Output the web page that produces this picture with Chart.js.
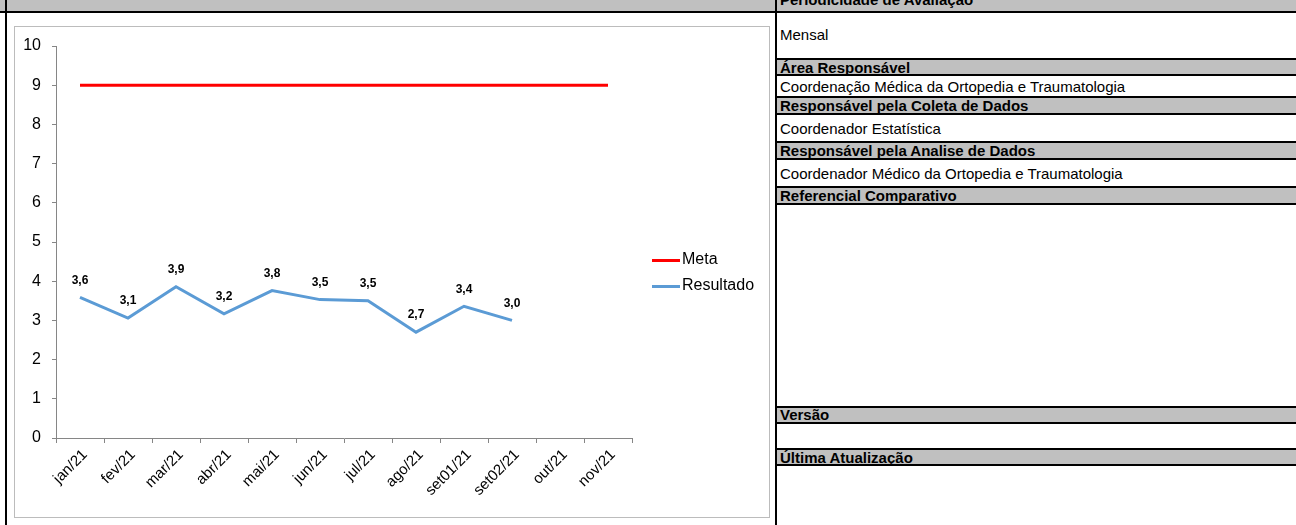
<!DOCTYPE html>
<html>
<head>
<meta charset="utf-8">
<script src="https://cdn.jsdelivr.net/npm/chart.js@4.4.1/dist/chart.umd.min.js"></script>
<style>
  body { margin: 0; background: #fff; font-family: "Liberation Sans", Arial, sans-serif; }
  #page { position: relative; width: 1296px; height: 525px; overflow: hidden; }
  .abs { position: absolute; }
  .gray { background: #c0c0c0; }
  .blk { background: #000; }
  .cell { position: absolute; left: 780px; font-size: 15px; color: #000; white-space: nowrap; }
  .cell.b { font-weight: bold; }
  #box { position: absolute; left: 14px; top: 26px; width: 754px; height: 490px; border: 1px solid #bcbcbc; }
  #chartWrap { position: absolute; left: 0; top: 0; width: 754px; height: 490px; }
  .leg { position: absolute; font-size: 16px; color: #000; }
  .leg span { position: absolute; left: 0; width: 28px; height: 3px; }
  .leg b { font-weight: normal; position: absolute; left: 30px; top: 0; white-space: nowrap; }
</style>
</head>
<body>
<div id="page">
  <!-- top bar -->
  <div class="abs gray" style="left:0;top:0;width:1296px;height:11px;"></div>
  <div class="abs blk" style="left:0;top:11px;width:1296px;height:2px;"></div>
  <div class="abs blk" style="left:5px;top:0;width:2px;height:525px;"></div>

  <div id="box"><div id="chartWrap"><canvas id="myChart"></canvas></div></div>

  <div class="leg" style="left:652px;top:250px;"><span style="top:9px;background:#ff0000;"></span><b>Meta</b></div>
  <div class="leg" style="left:652px;top:276px;"><span style="top:9px;background:#5b9bd5;"></span><b>Resultado</b></div>

  <!-- right table -->
  <div class="abs gray" style="left:777px;top:60px;width:519px;height:14px;"></div>
  <div class="abs gray" style="left:777px;top:98px;width:519px;height:15px;"></div>
  <div class="abs gray" style="left:777px;top:143px;width:519px;height:15px;"></div>
  <div class="abs gray" style="left:777px;top:188px;width:519px;height:15px;"></div>
  <div class="abs gray" style="left:777px;top:408px;width:519px;height:14px;"></div>
  <div class="abs gray" style="left:777px;top:450px;width:519px;height:14px;"></div>

  <div class="abs blk" style="left:777px;top:58px;width:519px;height:2px;"></div>
  <div class="abs blk" style="left:777px;top:74px;width:519px;height:2px;"></div>
  <div class="abs blk" style="left:777px;top:96px;width:519px;height:2px;"></div>
  <div class="abs blk" style="left:777px;top:113px;width:519px;height:2px;"></div>
  <div class="abs blk" style="left:777px;top:141px;width:519px;height:2px;"></div>
  <div class="abs blk" style="left:777px;top:158px;width:519px;height:2px;"></div>
  <div class="abs blk" style="left:777px;top:186px;width:519px;height:2px;"></div>
  <div class="abs blk" style="left:777px;top:203px;width:519px;height:2px;"></div>
  <div class="abs blk" style="left:777px;top:406px;width:519px;height:2px;"></div>
  <div class="abs blk" style="left:777px;top:422px;width:519px;height:2px;"></div>
  <div class="abs blk" style="left:777px;top:448px;width:519px;height:2px;"></div>
  <div class="abs blk" style="left:777px;top:464px;width:519px;height:2px;"></div>
  <div class="abs blk" style="left:775px;top:0;width:2px;height:525px;"></div>

  <div class="cell b" style="top:-9px;">Periodicidade de Avaliação</div>
  <div class="cell" style="top:26px;">Mensal</div>
  <div class="cell b" style="top:59px;">Área Responsável</div>
  <div class="cell" style="top:78px;">Coordenação Médica da Ortopedia e Traumatologia</div>
  <div class="cell b" style="top:97px;">Responsável pela Coleta de Dados</div>
  <div class="cell" style="top:120px;">Coordenador Estatística</div>
  <div class="cell b" style="top:142px;">Responsável pela Analise de Dados</div>
  <div class="cell" style="top:165px;">Coordenador Médico da Ortopedia e Traumatologia</div>
  <div class="cell b" style="top:187px;">Referencial Comparativo</div>
  <div class="cell b" style="top:406px;">Versão</div>
  <div class="cell b" style="top:449px;">Última Atualização</div>
</div>

<script>
const months = ["jan/21", "fev/21", "mar/21", "abr/21", "mai/21", "jun/21", "jul/21", "ago/21", "set01/21", "set02/21", "out/21", "nov/21"];
const meta = [9, 9, 9, 9, 9, 9, 9, 9, 9, 9, 9, 9];
const resultado = [3.59, 3.06, 3.86, 3.17, 3.76, 3.53, 3.50, 2.70, 3.36, 3.00, null, null];

let ctx = document.getElementById('myChart');
let myChart;

// valores em cima da linha Resultado
const pointLabels = {
    id: 'pointLabels',
    afterDatasetsDraw(chart) {
        const c = chart.ctx;
        const meta1 = chart.getDatasetMeta(1);
        c.save();
        c.font = 'bold 12px "Liberation Sans", Arial, sans-serif';
        c.fillStyle = '#000';
        c.textAlign = 'center';
        c.textBaseline = 'middle';
        meta1.data.forEach((pt, i) => {
            const v = resultado[i];
            if (v === null) return;
            c.fillText(v.toFixed(1).replace('.', ','), pt.x, pt.y - 17);
        });
        c.restore();
    }
};

myChart = new Chart(ctx, {
    type: 'line',
    data: {
        labels: months,
        datasets: [
            {
                label: 'Meta',
                data: meta,
                borderColor: '#ff0000',
                borderWidth: 3,
                pointRadius: 0,
                tension: 0
            },
            {
                label: 'Resultado',
                data: resultado,
                borderColor: '#5b9bd5',
                borderWidth: 3,
                pointRadius: 0,
                tension: 0
            }
        ]
    },
    options: {
        responsive: true,
        maintainAspectRatio: false,
        animation: false,
        layout: { padding: { top: 12, right: 137, left: 0, bottom: 0 } },
        plugins: {
            legend: { display: false },
            tooltip: { enabled: false }
        },
        scales: {
            x: {
                offset: true,
                grid: { offset: true, drawOnChartArea: false, tickLength: 5, color: '#868686' },
                border: { color: '#868686' },
                ticks: {
                    autoSkip: false,
                    minRotation: 45,
                    maxRotation: 45,
                    padding: 3,
                    labelOffset: 5,
                    color: '#000',
                    font: { family: '"Liberation Sans", Arial, sans-serif', size: 15 }
                },
                afterFit: (s) => { s.height = 79; }
            },
            y: {
                min: 0,
                max: 10,
                grid: { drawOnChartArea: false, tickLength: 4, color: '#868686' },
                border: { color: '#868686' },
                ticks: {
                    stepSize: 1,
                    padding: 11,
                    color: '#000',
                    font: { family: '"Liberation Sans", Arial, sans-serif', size: 16, lineHeight: 1 }
                },
                afterFit: (s) => { s.width = 41; }
            }
        }
    },
    plugins: [pointLabels]
});
</script>
</body>
</html>
